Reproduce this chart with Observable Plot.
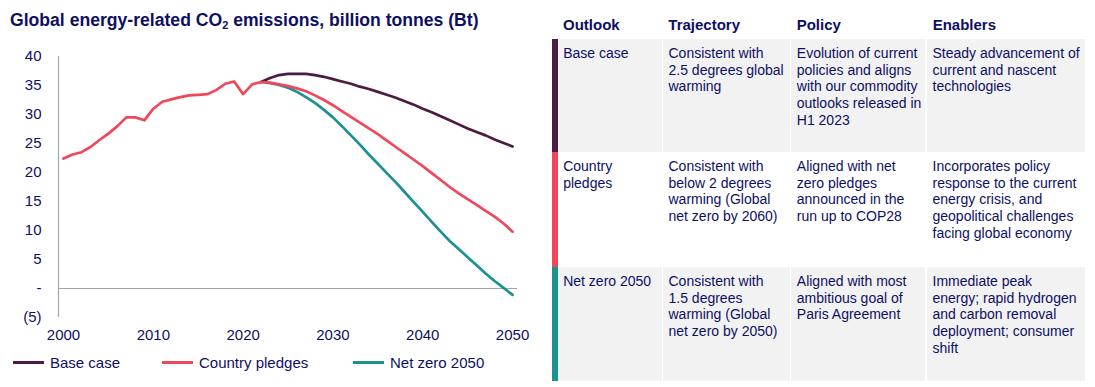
<!DOCTYPE html>
<html>
<head>
<meta charset="utf-8">
<script src="https://cdn.jsdelivr.net/npm/d3@7"></script>
<script src="https://cdn.jsdelivr.net/npm/@observablehq/plot@0.6"></script>
<style>
  html, body { margin: 0; padding: 0; background: #ffffff; }
  body { width: 1095px; height: 387px; position: relative; overflow: hidden;
         font-family: "Liberation Sans", Arial, sans-serif; color: #0d0f63; }
  #title { position: absolute; left: 10px; top: 10px; font-size: 17.6px; font-weight: bold; white-space: nowrap; }
  #title sub { font-size: 11px; vertical-align: -3px; line-height: 0; }
  #chart { position: absolute; left: 0; top: 40px; }
  .leg { position: absolute; top: 354px; font-size: 15px; white-space: nowrap; display: flex; align-items: center; }
  .leg .sw { width: 31px; height: 3px; margin-right: 6px; }
  .hdr { position: absolute; top: 16px; font-size: 15px; font-weight: bold; white-space: nowrap; }
  .cell { position: absolute; box-sizing: border-box; padding: 6px 0 0 5.5px; font-size: 14px; line-height: 16.7px; }
  .bar { position: absolute; }
</style>
</head>
<body>
<div id="title">Global energy-related CO<sub>2</sub> emissions, billion tonnes (Bt)</div>
<div id="chart"></div>
<div id="legend"></div>
<div id="table"></div>
<script>
// ---- data ----
const histYears = [2000,2001,2002,2003,2004,2005,2006,2007,2008,2009,2010,2011,2012,2013,2014,2015,2016,2017,2018,2019,2020,2021,2022];
const histValues = [22.4,23.1,23.5,24.4,25.6,26.7,28.0,29.5,29.5,29.0,31.0,32.2,32.6,33.0,33.3,33.4,33.5,34.2,35.3,35.7,33.5,35.2,35.6];

const projYears = [2022,2023,2024,2025,2026,2027,2028,2029,2030,2031,2032,2033,2034,2035,2036,2037,2038,2039,2040,2041,2042,2043,2044,2045,2046,2047,2048,2049,2050];
const baseCase = [35.6,36.3,36.8,37.0,37.0,37.0,36.8,36.5,36.1,35.7,35.3,34.8,34.4,33.9,33.4,32.9,32.3,31.7,31.0,30.4,29.7,29.0,28.3,27.6,27.0,26.4,25.7,25.1,24.5];
const countryPledges = [35.6,35.5,35.2,34.9,34.5,34.0,33.3,32.5,31.6,30.6,29.6,28.6,27.6,26.6,25.5,24.4,23.3,22.2,21.1,19.9,18.7,17.5,16.4,15.4,14.4,13.4,12.4,11.2,9.8];
const netZero = [35.6,35.4,35.1,34.6,33.9,33.0,32.0,30.8,29.5,28.0,26.4,24.8,23.1,21.5,19.9,18.3,16.6,14.9,13.2,11.5,9.8,8.2,6.8,5.4,4.0,2.6,1.3,0.1,-1.1];

const seriesNames = ["Base case", "Country pledges", "Net zero 2050"];
const seriesColors = ["#4d1a42", "#f0475a", "#1b9191"];

const xTicks = [2000, 2010, 2020, 2030, 2040, 2050];
const yTicks = [-5, 0, 5, 10, 15, 20, 25, 30, 35, 40];

const tableHeaders = ["Outlook", "Trajectory", "Policy", "Enablers"];
const tableRows = [
  ["Base case", "Consistent with<br>2.5 degrees global<br>warming", "Evolution of current<br>policies and aligns<br>with our commodity<br>outlooks released in<br>H1 2023", "Steady advancement of<br>current and nascent<br>technologies"],
  ["Country<br>pledges", "Consistent with<br>below 2 degrees<br>warming (Global<br>net zero by 2060)", "Aligned with net<br>zero pledges<br>announced in the<br>run up to COP28", "Incorporates policy<br>response to the current<br>energy crisis, and<br>geopolitical challenges<br>facing global economy"],
  ["Net zero 2050", "Consistent with<br>1.5 degrees<br>warming (Global<br>net zero by 2050)", "Aligned with most<br>ambitious goal of<br>Paris Agreement", "Immediate peak<br>energy; rapid hydrogen<br>and carbon removal<br>deployment; consumer<br>shift"]
];

// ---- chart ----
const xDomain = [1999.44, 2050.55];
const axisGray = "#a6a6a6";
const lineOpts = {strokeWidth: 2.7, strokeLinejoin: "round", strokeLinecap: "round"};

const plot = Plot.plot({
  width: 540,
  height: 310,
  marginLeft: 58,
  marginRight: 23,
  marginTop: 16,
  marginBottom: 33,
  style: {fontFamily: "'Liberation Sans', Arial, sans-serif", fontSize: "15px", color: "#0d0f63", background: "transparent", overflow: "visible"},
  x: {domain: xDomain, ticks: xTicks, tickFormat: d => String(d), tickSize: 0, tickPadding: 12, label: null},
  y: {domain: [-5, 40], ticks: yTicks, tickFormat: d => d === 0 ? "-" : d < 0 ? `(${-d})` : String(d), tickSize: 0, tickPadding: 17, label: null},
  marks: [
    Plot.ruleY([0], {stroke: axisGray, strokeWidth: 1.2}),
    Plot.ruleX([xDomain[0]], {stroke: axisGray, strokeWidth: 1.2}),
    Plot.line(baseCase, {x: projYears, y: baseCase, stroke: seriesColors[0], ...lineOpts}),
    Plot.line(netZero, {x: projYears, y: netZero, stroke: seriesColors[2], ...lineOpts}),
    Plot.line(countryPledges, {x: projYears, y: countryPledges, stroke: seriesColors[1], ...lineOpts}),
    Plot.line(histValues, {x: histYears, y: histValues, stroke: seriesColors[1], ...lineOpts})
  ]
});
document.getElementById("chart").appendChild(plot);

// ---- legend ----
const legendX = [13, 162, 353];
const legend = document.getElementById("legend");
seriesNames.forEach((name, i) => {
  const d = document.createElement("div");
  d.className = "leg";
  d.style.left = legendX[i] + "px";
  d.innerHTML = `<span class="sw" style="background:${seriesColors[i]}"></span><span>${name}</span>`;
  legend.appendChild(d);
});

// ---- table ----
const table = document.getElementById("table");
const colLeft = [557.7, 663, 791.3, 927];
const colRight = [661.7, 790, 925.5, 1085];
const hdrX = [563, 668.3, 796.7, 932.7];
const rowTop = [39, 152, 267];
const rowBottom = [152, 267, 381];
const rowBg = ["#f2f2f2", "#ffffff", "#f2f2f2"];
tableHeaders.forEach((h, j) => {
  const d = document.createElement("div");
  d.className = "hdr";
  d.style.left = hdrX[j] + "px";
  d.textContent = h;
  table.appendChild(d);
});
tableRows.forEach((row, i) => {
  const b = document.createElement("div");
  b.className = "bar";
  b.style.cssText = `left:551.7px;width:6px;top:${rowTop[i]}px;height:${rowBottom[i]-rowTop[i]}px;background:${seriesColors[i]}`;
  table.appendChild(b);
  row.forEach((txt, j) => {
    const c = document.createElement("div");
    c.className = "cell";
    c.style.cssText = `left:${colLeft[j]}px;width:${colRight[j]-colLeft[j]}px;top:${rowTop[i]}px;height:${rowBottom[i]-rowTop[i]}px;background:${rowBg[i]}`;
    c.innerHTML = txt;
    table.appendChild(c);
  });
});
</script>
</body>
</html>
